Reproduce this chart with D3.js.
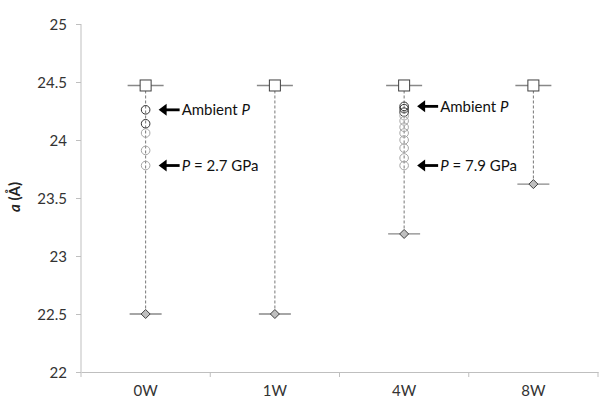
<!DOCTYPE html>
<html><head><meta charset="utf-8">
<script src="https://cdn.jsdelivr.net/npm/d3@7"></script>
<style>body{margin:0;background:#fff}svg{display:block}text{font-family:Lato,"Open Sans",sans-serif}</style>
</head><body><svg id="c" width="610" height="404"></svg>
<script>
const categories = ["0W","1W","4W","8W"];
const highValues = [24.47,24.47,24.47,24.47];
const lowValues = [22.5,22.5,23.19,23.62];
const circles0W = [24.26,24.14,24.06,23.91,23.78];
const dark0W = 2;
const circles4W = [24.29,24.27,24.24,24.21,24.165,24.11,24.06,24.0,23.93,23.845,23.78];
const dark4W = 3;
const yTicks = [22,22.5,23,23.5,24,24.5,25];
const annotations = [
  {cat:"0W", value:24.26, label:"Ambient", italic:"P", pre:""},
  {cat:"0W", value:23.78, label:" = 2.7 GPa", italic:"P", pre:"P"},
  {cat:"4W", value:24.29, label:"Ambient", italic:"P", pre:""},
  {cat:"4W", value:23.78, label:" = 7.9 GPa", italic:"P", pre:"P"}
];

const svg = d3.select("#c");
const x = d3.scaleBand().domain(categories).range([81,598]);
const y = d3.scaleLinear().domain([22,25]).range([372,24]);
const axisCol = "#bfbfbf";

// y axis
const ya = svg.append("g").attr("transform","translate(81,0)")
  .call(d3.axisLeft(y).tickValues(yTicks).tickSize(5).tickPadding(9).tickFormat(d3.format("")));
ya.select(".domain").attr("stroke",axisCol).attr("d","M0,24V372");
ya.selectAll(".tick line").attr("stroke",axisCol);
ya.selectAll(".tick text").attr("font-size",15).attr("fill","#333").attr("dy","0.34em");

// x axis
const xa = svg.append("g").attr("transform","translate(0,372)")
  .call(d3.axisBottom(x).tickSize(0).tickPadding(13));
xa.select(".domain").attr("stroke",axisCol);
xa.selectAll(".tick text").attr("font-size",15).attr("fill","#333");
const bounds = categories.map(c=>x(c)).concat([x.range()[1]]);
svg.append("g").selectAll("line").data(bounds).join("line")
  .attr("x1",d=>d).attr("x2",d=>d).attr("y1",372).attr("y2",377).attr("stroke",axisCol);

// y label
svg.append("text").attr("transform","translate(20,197) rotate(-90)")
  .attr("text-anchor","middle").attr("font-size",15).attr("font-weight","bold").attr("fill","#222")
  .call(t=>{t.append("tspan").attr("font-style","italic").text("a");t.append("tspan").text(" (Å)");});

const cx = c => x(c)+x.bandwidth()/2;

// dashed high-low lines
svg.append("g").selectAll("line").data(categories).join("line")
  .attr("x1",cx).attr("x2",cx)
  .attr("y1",(d,i)=>y(highValues[i])).attr("y2",(d,i)=>y(lowValues[i]))
  .attr("stroke","#777").attr("stroke-width",1).attr("stroke-dasharray","3,2");

// horizontal bars at high and low
svg.append("g").selectAll("line").data(categories).join("line")
  .attr("x1",d=>cx(d)-18).attr("x2",d=>cx(d)+18)
  .attr("y1",(d,i)=>y(highValues[i])).attr("y2",(d,i)=>y(highValues[i]))
  .attr("stroke","#888").attr("stroke-width",1.3);
svg.append("g").selectAll("line").data(categories).join("line")
  .attr("x1",d=>cx(d)-16).attr("x2",d=>cx(d)+16)
  .attr("y1",(d,i)=>y(lowValues[i])).attr("y2",(d,i)=>y(lowValues[i]))
  .attr("stroke","#888").attr("stroke-width",1.3);

// circles
function drawCircles(cat, vals, nDark){
  svg.append("g").selectAll("circle").data(vals).join("circle")
    .attr("cx",cx(cat)).attr("cy",d=>y(d)).attr("r",4.3)
    .attr("fill","none")
    .attr("stroke",(d,i)=>i<nDark?"#333":"#a6a6a6").attr("stroke-width",1);
}
drawCircles("0W",circles0W,dark0W);
drawCircles("4W",circles4W,dark4W);

// squares
svg.append("g").selectAll("rect").data(categories).join("rect")
  .attr("x",d=>cx(d)-5.5).attr("y",(d,i)=>y(highValues[i])-5.5).attr("width",11).attr("height",11)
  .attr("fill","#fff").attr("stroke","#404040").attr("stroke-width",1);
// diamonds
svg.append("g").selectAll("path").data(categories).join("path")
  .attr("d",(d,i)=>{const px=cx(d),py=y(lowValues[i]);return `M${px},${py-4.5}L${px+4.5},${py}L${px},${py+4.5}L${px-4.5},${py}Z`;})
  .attr("fill","#bfbfbf").attr("stroke","#404040").attr("stroke-width",1);

// annotations
const ag = svg.append("g");
annotations.forEach(a=>{
  const px = cx(a.cat)+13, py = y(a.value);
  ag.append("line").attr("x1",px+4).attr("x2",px+21).attr("y1",py).attr("y2",py)
    .attr("stroke","#000").attr("stroke-width",2.8);
  ag.append("path").attr("d",`M${px},${py}L${px+8},${py-6}L${px+8},${py+6}Z`).attr("fill","#000");
  const t = ag.append("text").attr("x",px+23).attr("y",py).attr("dy","0.35em").attr("font-size",15).attr("fill","#111");
  if(a.pre){ t.append("tspan").attr("font-style","italic").text(a.pre); t.append("tspan").text(a.label); }
  else { t.append("tspan").text(a.label+" "); t.append("tspan").attr("font-style","italic").text(a.italic); }
});
</script></body></html>
